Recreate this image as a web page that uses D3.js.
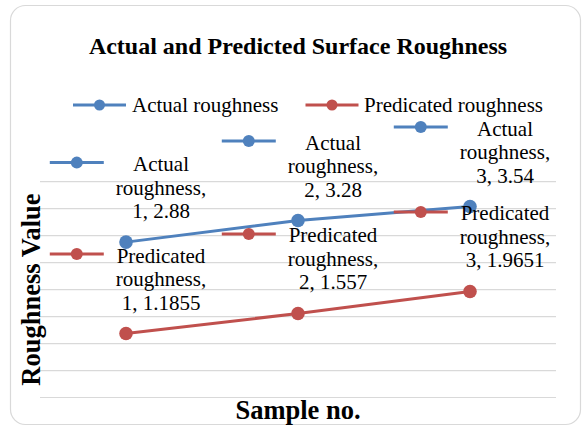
<!DOCTYPE html>
<html>
<head>
<meta charset="utf-8">
<script src="https://cdn.jsdelivr.net/npm/d3@7"></script>
<style>
  html, body { margin: 0; padding: 0; background: #fff; }
  svg { display: block; }
  text { font-family: "Liberation Serif", "Times New Roman", serif; fill: #000; }
</style>
</head>
<body>
<svg id="chart" width="583" height="426"></svg>
<script>
// ---- data ----
const categories = [1, 2, 3];
const actualRoughness = [2.88, 3.28, 3.54];
const predictedRoughness = [1.1855, 1.557, 1.9651];
const seriesNames = ["Actual roughness", "Predicated roughness"];
const yTicks = [0, 0.5, 1, 1.5, 2, 2.5, 3, 3.5, 4];
const chartTitle = "Actual and Predicted Surface Roughness";
const xTitle = "Sample no.";
const yTitle = "Roughness Value";

const colors = ["#4F81BD", "#C0504D"];
const series = [
  { name: seriesNames[0], values: actualRoughness, color: colors[0] },
  { name: seriesNames[1], values: predictedRoughness, color: colors[1] }
];

const svg = d3.select("#chart");

// border
svg.append("rect")
  .attr("x", 10.5).attr("y", 5.5).attr("width", 570).attr("height", 419)
  .attr("rx", 15).attr("ry", 15)
  .attr("fill", "#fff").attr("stroke", "#d9d9d9").attr("stroke-width", 1.2);

const plot = { left: 40, right: 556, top: 181.7, bottom: 397.5 };

const x = d3.scaleBand().domain(categories).range([plot.left, plot.right]);
const y = d3.scaleLinear().domain([0, 4]).range([plot.bottom, plot.top]);

// gridlines
svg.append("g").selectAll("line").data(yTicks).join("line")
  .attr("x1", plot.left).attr("x2", plot.right)
  .attr("y1", d => y(d)).attr("y2", d => y(d))
  .attr("stroke", "#d9d9d9").attr("stroke-width", 1.2);

// title
svg.append("text").attr("x", 298).attr("y", 54)
  .attr("text-anchor", "middle").attr("font-weight", "bold").attr("font-size", 24)
  .text(chartTitle);

// legend
const legendItems = [
  { s: series[0], x0: 73, x1: 126, tx: 132 },
  { s: series[1], x0: 305.5, x1: 358.5, tx: 364 }
];
const lg = svg.append("g");
const legY = 105;
legendItems.forEach(it => {
  lg.append("line").attr("x1", it.x0).attr("x2", it.x1).attr("y1", legY).attr("y2", legY)
    .attr("stroke", it.s.color).attr("stroke-width", 3);
  lg.append("circle").attr("cx", (it.x0 + it.x1) / 2).attr("cy", legY).attr("r", 5.5)
    .attr("fill", it.s.color);
  lg.append("text").attr("x", it.tx).attr("y", legY + 7).attr("font-size", 21).text(it.s.name);
});

// lines and markers
const cx = d => x(d) + x.bandwidth() / 2;
series.forEach(s => {
  const pts = categories.map((c, i) => [cx(c), y(s.values[i])]);
  svg.append("path").attr("d", d3.line()(pts))
    .attr("fill", "none").attr("stroke", s.color).attr("stroke-width", 3)
    .attr("stroke-linejoin", "round");
});
series.forEach(s => {
  svg.append("g").selectAll("circle").data(categories).join("circle")
    .attr("cx", d => cx(d)).attr("cy", (d, i) => y(s.values[i])).attr("r", 6.8)
    .attr("fill", s.color);
});

// data labels (with legend keys)
const labelFont = 21, lineH = 23.5, keyW = 54, gap = 12;
series.forEach(s => {
  categories.forEach((c, i) => {
    const px = cx(c), py = y(s.values[i]);
    const words = s.name.split(" ");
    const lines = [words[0], words.slice(1).join(" ") + ",", c + ", " + s.values[i]];
    const g = svg.append("g");
    const texts = lines.map((t, k) =>
      g.append("text").attr("font-size", labelFont).attr("text-anchor", "middle")
        .attr("y", py - 24 - (lines.length - 1 - k) * lineH).text(t));
    const maxW = d3.max(texts, t => t.node().getComputedTextLength());
    const total = keyW + gap + maxW;
    const left = px + 2 - total / 2;
    const tcx = left + keyW + gap + maxW / 2;
    texts.forEach(t => t.attr("x", tcx));
    const ky = py - 24 - (lines.length - 1) * lineH - 8.5;
    g.append("line").attr("x1", left).attr("x2", left + keyW).attr("y1", ky).attr("y2", ky)
      .attr("stroke", s.color).attr("stroke-width", 3);
    g.append("circle").attr("cx", left + keyW / 2).attr("cy", ky).attr("r", 6)
      .attr("fill", s.color);
  });
});

// axis titles
svg.append("text").attr("x", 298).attr("y", 418.5)
  .attr("text-anchor", "middle").attr("font-weight", "bold").attr("font-size", 26.5)
  .text(xTitle);
svg.append("text")
  .attr("transform", "translate(40," + ((plot.top + plot.bottom) / 2) + ") rotate(-90)")
  .attr("text-anchor", "middle").attr("font-weight", "bold").attr("font-size", 26.5)
  .text(yTitle);
</script>
</body>
</html>
